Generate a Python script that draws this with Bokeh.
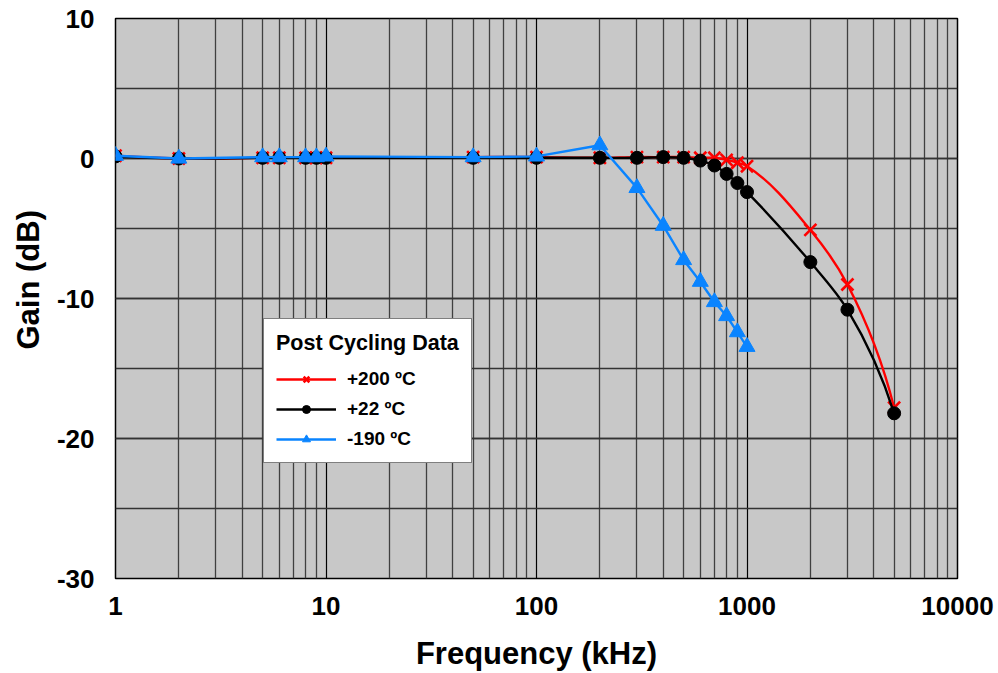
import numpy as np
from bokeh.plotting import figure
from bokeh.models import (Range1d, FixedTicker, SingleIntervalTicker, Legend, LegendItem, Title)
from bokeh.embed import file_html
from bokeh.resources import INLINE

# ---- data ----
freq_khz = [1, 2, 5, 6, 8, 9, 10, 50, 100, 200, 300, 400, 500, 600, 700, 800, 900, 1000, 2000, 3000, 5000]
gain_p200 = [0.2, 0.0, 0.05, 0.05, 0.05, 0.05, 0.05, 0.1, 0.1, 0.05, 0.1, 0.1, 0.1, 0.05, 0.05, -0.1, -0.3, -0.55, -5.1, -9.0, -17.8]
gain_p22 = [0.15, 0.0, 0.05, 0.05, 0.05, 0.05, 0.05, 0.05, 0.05, 0.05, 0.05, 0.1, 0.05, -0.15, -0.5, -1.1, -1.75, -2.4, -7.4, -10.8, -18.2]
freq_m190 = [1, 2, 5, 6, 8, 9, 10, 50, 100, 200, 300, 400, 500, 600, 700, 800, 900, 1000]
gain_m190 = [0.2, 0.0, 0.1, 0.1, 0.1, 0.1, 0.15, 0.1, 0.15, 0.95, -2.1, -4.8, -7.25, -8.8, -10.25, -11.25, -12.4, -13.45]

series_labels = ["+200 \u00baC", "+22 \u00baC", "-190 \u00baC"]
legend_title = "Post Cycling Data"
x_title = "Frequency (kHz)"
y_title = "Gain (dB)"
x_major = [1, 10, 100, 1000, 10000]
x_minor_mult = [2, 3, 4, 5, 6, 7, 8, 9]
y_labels = [10, 0, -10, -20, -30]

FONT = "Liberation Sans"
W, H = 998, 673
BL, BR, BT, BB = 115, 41, 18, 94
X_LO, X_HI, Y_LO, Y_HI = 1, 10000, -30, 10
PX_PER_DECADE = (W - BL - BR) / (np.log10(X_HI) - np.log10(X_LO))
PX_PER_UNIT = (H - BT - BB) / (Y_HI - Y_LO)


def smooth_bezier(xs, ys):
    """Smoothed line (Excel-like) as cubic Bezier segments, built in screen-proportional space."""
    X = np.log10(np.asarray(xs, float)) * PX_PER_DECADE
    Y = np.asarray(ys, float) * PX_PER_UNIT
    P = np.column_stack([X, Y])
    n = len(P)
    chords = P[1:] - P[:-1]
    lens = np.hypot(chords[:, 0], chords[:, 1])
    unit = chords / lens[:, None]
    ang = np.arctan2(unit[:, 1], unit[:, 0])
    tang = np.zeros(n)
    for i in range(1, n - 1):
        t = unit[i - 1] + unit[i]
        tang[i] = np.arctan2(t[1], t[0])
    tang[0] = 2 * ang[0] - tang[1] if n > 2 else ang[0]
    tang[-1] = 2 * ang[-1] - tang[-2] if n > 2 else ang[-1]
    out = {k: [] for k in ("x0", "y0", "x1", "y1", "cx0", "cy0", "cx1", "cy1")}
    for i in range(n - 1):
        L = lens[i] / 3.0
        c0 = P[i] + L * np.array([np.cos(tang[i]), np.sin(tang[i])])
        c1 = P[i + 1] - L * np.array([np.cos(tang[i + 1]), np.sin(tang[i + 1])])
        for key, pt in (("0", P[i]), ("1", P[i + 1])):
            out["x" + key].append(10 ** (pt[0] / PX_PER_DECADE))
            out["y" + key].append(pt[1] / PX_PER_UNIT)
        out["cx0"].append(10 ** (c0[0] / PX_PER_DECADE)); out["cy0"].append(c0[1] / PX_PER_UNIT)
        out["cx1"].append(10 ** (c1[0] / PX_PER_DECADE)); out["cy1"].append(c1[1] / PX_PER_UNIT)
    return out


p = figure(width=W, height=H, x_axis_type="log",
           x_range=Range1d(X_LO, X_HI), y_range=Range1d(Y_LO, Y_HI),
           output_backend="svg", toolbar_location=None,
           min_border_left=BL, min_border_right=BR,
           min_border_top=BT, min_border_bottom=BB)

p.border_fill_color = "white"
p.background_fill_color = "#C8C8C8"
p.outline_line_color = "black"
p.outline_line_width = 1.5

# ticks
minor = [m * d for d in x_major[:-1] for m in x_minor_mult]
p.xaxis.ticker = FixedTicker(ticks=x_major, minor_ticks=minor)
p.xaxis.major_label_overrides = {v: str(v) for v in x_major}
p.yaxis.ticker = SingleIntervalTicker(interval=10, num_minor_ticks=2)
p.yaxis.major_label_overrides = {v: str(v) for v in y_labels}

for ax in (p.xaxis, p.yaxis):
    ax.major_tick_line_color = None
    ax.minor_tick_line_color = None
    ax.axis_line_color = None
    ax.major_label_text_font = FONT
    ax.major_label_text_font_style = "bold"
    ax.major_label_text_font_size = "26px"
    ax.major_label_text_color = "black"
    ax.axis_label_text_font = FONT
    ax.axis_label_text_font_style = "bold"
    ax.axis_label_text_font_size = "31px"
    ax.axis_label_text_color = "black"

p.xaxis.axis_label = x_title
p.xaxis.major_label_standoff = 12
p.yaxis.major_label_standoff = 15
p.xaxis.axis_label_standoff = 18

# y-axis title, placed a little above the frame centre as in the reference
p.add_layout(Title(text=y_title, align="left", offset=229, standoff=16,
                   text_font=FONT, text_font_style="bold", text_font_size="31px",
                   text_color="black"), "left")

# grid
p.xgrid.grid_line_color = "black"
p.xgrid.grid_line_width = 1.2
p.xgrid.minor_grid_line_color = "#404040"
p.xgrid.minor_grid_line_width = 1.3
p.ygrid.grid_line_color = "#333333"
p.ygrid.grid_line_width = 1.5
p.ygrid.minor_grid_line_color = "#333333"
p.ygrid.minor_grid_line_width = 1.5

RED = "#FF0000"
BLK = "#000000"
BLU = "#0A84FF"

# +200 C (smoothed)
r_line = p.bezier(line_color=RED, line_width=2.4, **smooth_bezier(freq_khz, gain_p200))
r_pts = p.scatter(freq_khz, gain_p200, marker="x", size=17, line_color=RED, line_width=2.6)

# +22 C (smoothed)
k_line = p.bezier(line_color=BLK, line_width=2.4, **smooth_bezier(freq_khz, gain_p22))
k_pts = p.scatter(freq_khz, gain_p22, marker="circle", size=13, fill_color=BLK, line_color=BLK)

# -190 C (straight)
b_line = p.line(freq_m190, gain_m190, line_color=BLU, line_width=2.4)
b_pts = p.scatter(freq_m190, gain_m190, marker="triangle", size=16, fill_color=BLU, line_color=BLU)

legend = Legend(items=[
    LegendItem(label=series_labels[0], renderers=[r_line, r_pts]),
    LegendItem(label=series_labels[1], renderers=[k_line, k_pts]),
    LegendItem(label=series_labels[2], renderers=[b_line, b_pts]),
], location=(148, 115))
legend.title = legend_title
legend.title_text_font = FONT
legend.title_text_font_style = "bold"
legend.title_text_font_size = "21.5px"
legend.title_text_color = "black"
legend.title_standoff = 12
legend.label_text_font = FONT
legend.label_text_font_style = "bold"
legend.label_text_font_size = "19px"
legend.label_text_color = "black"
legend.glyph_width = 60
legend.glyph_height = 20
legend.label_height = 20
legend.label_standoff = 11
legend.spacing = 8
legend.padding = 12
legend.margin = 0
legend.border_line_color = "black"
legend.border_line_width = 1.2
legend.background_fill_color = "white"
legend.background_fill_alpha = 1.0
p.add_layout(legend, "center")

open("out.html", "w").write(file_html(p, INLINE))
